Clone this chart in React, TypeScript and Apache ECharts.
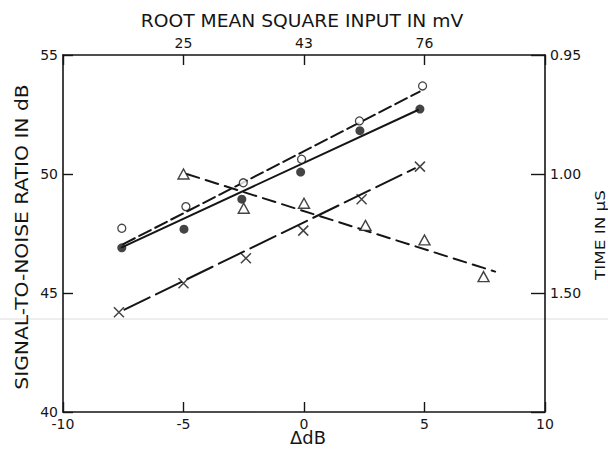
import React, { useEffect, useRef } from "react";
import * as echarts from "echarts";

// Open circles (signal-to-noise, dB)
const openX = [-7.56, -4.9, -2.52, -0.1, 2.3, 4.92];
const openY = [47.72, 48.63, 49.63, 50.62, 52.23, 53.7];
// Filled circles (signal-to-noise, dB)
const filledX = [-7.56, -4.98, -2.58, -0.14, 2.32, 4.81];
const filledY = [46.9, 47.68, 48.94, 50.08, 51.82, 52.73];
// Crosses (signal-to-noise, dB)
const crossX = [-7.68, -5.0, -2.41, -0.03, 2.39, 4.81];
const crossY = [44.19, 45.41, 46.46, 47.62, 48.94, 50.31];
// Triangles (time, µs, right axis)
const triX = [-5.0, -2.5, 0.0, 2.55, 5.0, 7.45];
const triY = [1.0, 1.0144, 1.0123, 1.0216, 1.0277, 1.0431];

// Fitted lines (end points)
const openFitX = [-7.5, 4.8];
const openFitY = [47.05, 53.46];
const filledFitX = [-7.56, 4.73];
const filledFitY = [46.92, 52.69];
const crossFitX = [-7.45, 4.6];
const crossFitY = [44.3, 50.24];
const triFitX = [-4.87, 7.93];
const triFitY = [1.0, 1.041];

// Tick labels
const topTickValues = [-5, 0, 5];
const topTickLabels = ["25", "43", "76"];
const rightTickLabels = ["0.95", "1.00", "1.50", ""];

const INK = "#151515";
const FONT = "DejaVu Sans";

const pairs = (xs: number[], ys: number[]) => xs.map((x, i) => [x, ys[i]]);

export default function App() {
  const ref = useRef<HTMLDivElement>(null);
  useEffect(() => {
    if (!ref.current) return;
    const chart = echarts.init(ref.current, undefined, { renderer: "svg" });
    const axisLine = { show: true, onZero: false, lineStyle: { color: INK, width: 1.6 } };
    const tick = (len: number) => ({ show: true, inside: true, length: len, lineStyle: { color: INK, width: 1.4 } });
    const label = { color: INK, fontFamily: FONT, fontSize: 14 };
    const lineSeries = (xs: number[], ys: number[], type: any, yAxisIndex = 0) => ({
      type: "line",
      yAxisIndex,
      data: pairs(xs, ys),
      symbol: "none",
      silent: true,
      lineStyle: { color: INK, width: 2, type, cap: "round" },
      z: 2,
    });
    const title = (text: string, x: number, y: number, size: number, sx: number, rot = 0) => ({
      type: "text",
      x,
      y,
      rotation: rot,
      scaleX: sx,
      style: {
        text,
        fill: INK,
        font: `${size}px "${FONT}"`,
        align: "center",
        verticalAlign: "middle",
      },
    });
    chart.setOption({
      animation: false,
      backgroundColor: "#ffffff",
      grid: { left: 63, right: 63, top: 55, bottom: 39, outerBoundsMode: "none", containLabel: false },
      xAxis: [
        {
          type: "value",
          position: "bottom",
          min: -10,
          max: 10,
          interval: 5,
          axisLine,
          axisTick: tick(10),
          splitLine: { show: false },
          axisLabel: { ...label, margin: 5 },
        },
        {
          type: "value",
          position: "top",
          min: -10,
          max: 10,
          interval: 5,
          axisLine,
          axisTick: tick(10),
          splitLine: { show: false },
          axisLabel: {
            ...label,
            margin: 5,
            formatter: (v: number) => {
              const i = topTickValues.indexOf(Math.round(v));
              return i >= 0 ? topTickLabels[i] : "";
            },
          },
        },
      ],
      yAxis: [
        {
          type: "value",
          position: "left",
          min: 40,
          max: 55,
          interval: 5,
          axisLine,
          axisTick: tick(10),
          splitLine: { show: false },
          axisLabel: { ...label, margin: 5 },
        },
        {
          type: "value",
          position: "right",
          inverse: true,
          min: 0.95,
          max: 1.1,
          interval: 0.05,
          axisLine,
          axisTick: tick(14),
          splitLine: { show: false },
          axisLabel: {
            ...label,
            margin: 5,
            formatter: (v: number) => rightTickLabels[Math.round((v - 0.95) / 0.05)] ?? "",
          },
        },
      ],
      graphic: [
        {
          type: "line",
          silent: true,
          z: -1,
          shape: { x1: 0, y1: 319, x2: 608, y2: 319 },
          style: { stroke: "#dcdcdc", lineWidth: 1 },
        },
        title("ROOT MEAN SQUARE INPUT IN mV", 302, 21, 17, 1.1),
        title("SIGNAL-TO-NOISE RATIO IN dB", 22, 237, 17, 1.19, Math.PI / 2),
        title("TIME IN μS", 600, 235, 14, 1.2, Math.PI / 2),
        title("ΔdB", 308, 438, 17, 1.05),
      ],
      series: [
        lineSeries(openFitX, openFitY, [13, 5]),
        lineSeries(filledFitX, filledFitY, "solid"),
        lineSeries(crossFitX, crossFitY, [28, 7]),
        lineSeries(triFitX, triFitY, [13, 7], 1),
        {
          type: "scatter",
          data: pairs(openX, openY),
          symbol: "circle",
          symbolSize: 8,
          itemStyle: { color: "#ffffff", borderColor: INK, borderWidth: 1.3 },
          z: 3,
        },
        {
          type: "scatter",
          data: pairs(filledX, filledY),
          symbol: "circle",
          symbolSize: 9,
          itemStyle: { color: INK },
          z: 3,
        },
        {
          type: "scatter",
          data: pairs(crossX, crossY),
          symbol: "path://M0,0L10,10M10,0L0,10",
          symbolSize: 10,
          itemStyle: { color: "none", borderColor: INK, borderWidth: 1.5 },
          z: 3,
        },
        {
          type: "scatter",
          yAxisIndex: 1,
          data: pairs(triX, triY),
          symbol: "triangle",
          symbolSize: [11, 10],
          itemStyle: { color: "#ffffff", borderColor: INK, borderWidth: 1.4 },
          z: 3,
        },
      ],
    });
    return () => chart.dispose();
  }, []);
  return <div ref={ref} style={{ position: "fixed", left: 0, top: 0, width: 608, height: 451 }} />;
}
